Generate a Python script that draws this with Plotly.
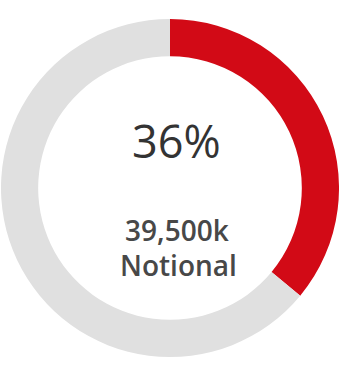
import plotly.graph_objects as go

# Share of notional, split into the filled part and the remainder
segments = ["Notional", "Remaining"]
shares = [36, 64]
colors = ["#d20a16", "#e0e0e0"]

pct_label = "36%"
amount_label = "39,500k"
caption = "Notional"

W, H = 339, 368
cx, cy, r = 170, 188, 169  # ring center / radius in pixels


def clamp(v):
    return min(1.0, max(0.0, v))


fig = go.Figure(
    go.Pie(
        labels=segments,
        values=shares,
        hole=0.78,
        sort=False,
        direction="clockwise",
        rotation=0,
        marker=dict(colors=colors, line=dict(color="white", width=0)),
        textinfo="none",
        hoverinfo="label+percent",
        domain=dict(
            x=[clamp((cx - r) / W), clamp((cx + r) / W)],
            y=[clamp(1 - (cy + r) / H), clamp(1 - (cy - r) / H)],
        ),
        showlegend=False,
    )
)

fig.add_annotation(
    text=pct_label, x=176 / W, y=1 - 140 / H, xref="paper", yref="paper",
    showarrow=False, xanchor="center", yanchor="middle",
    font=dict(family="Open Sans", size=45, color="#333333", weight=500),
)
fig.add_annotation(
    text=amount_label, x=177 / W, y=1 - 230 / H, xref="paper", yref="paper",
    showarrow=False, xanchor="center", yanchor="middle",
    font=dict(family="Open Sans", size=28, color="#484848", weight=600),
)
fig.add_annotation(
    text=caption, x=178 / W, y=1 - 265 / H, xref="paper", yref="paper",
    showarrow=False, xanchor="center", yanchor="middle",
    font=dict(family="Open Sans", size=28, color="#484848", weight=600),
)

fig.update_layout(
    width=W, height=H,
    margin=dict(l=0, r=0, t=0, b=0),
    paper_bgcolor="white", plot_bgcolor="white",
)

fig.write_html("out.html")
